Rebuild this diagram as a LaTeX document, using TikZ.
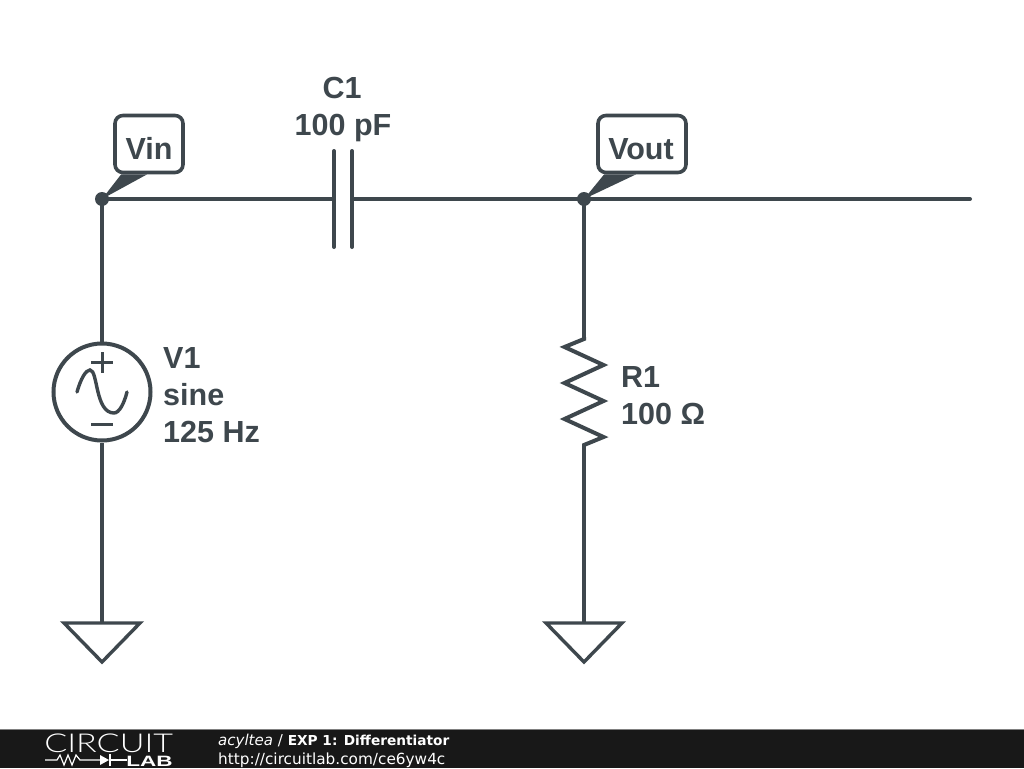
\documentclass[tikz,border=0pt]{standalone}
\usepackage{fontspec}
\setmainfont{Liberation Sans}
\newfontfamily\footfont{DejaVu Sans}
\newfontfamily\logofont{Lato Light}
\usepackage{tikz}
\usetikzlibrary{calc}
\definecolor{wirecol}{HTML}{3E474D}
\definecolor{barcol}{HTML}{181818}

\begin{document}
\begin{tikzpicture}[x=1pt,y=-1pt,line join=miter,wirecol]
  \tikzstyle{wire}=[draw=wirecol,line width=4pt]
  \tikzstyle{thinwire}=[draw=wirecol,line width=3.4pt]
  \tikzstyle{markwire}=[draw=wirecol,line width=3pt]
  \tikzstyle{junction}=[circle,fill=wirecol,inner sep=0pt,minimum size=14pt]
  \tikzstyle{tag}=[draw=wirecol,line width=3.6pt,rounded corners=8pt,inner sep=0pt,minimum height=57pt,
                   font=\fontsize{30.5}{36}\selectfont\bfseries,text=wirecol]
  \tikzstyle{lbl}=[inner sep=0pt,anchor=base west,font=\fontsize{30.5}{30}\selectfont\bfseries,text=wirecol]
  \tikzstyle{lblc}=[lbl,anchor=base]
  \tikzstyle{gnd}=[thinwire,line join=miter]
  \tikzstyle{foot}=[inner sep=0pt,anchor=base west,text=white,font=\footfont\fontsize{15.3}{16}\selectfont]

  \useasboundingbox (0,0) rectangle (1024,768);
  \fill[white] (0,0) rectangle (1024,768);

  % junctions and free ends
  \node[junction] (Vin)  at (102,199) {};
  \node[junction] (Vout) at (584,199) {};
  \coordinate (End)  at (970,199);
  \coordinate (C1a)  at (334,199);
  \coordinate (C1b)  at (352,199);
  \coordinate (G1)   at (102,623);
  \coordinate (G2)   at (584,623);
  \coordinate (R1t)  at (584,337);
  \coordinate (R1b)  at (584,446);
  \node[circle,draw=wirecol,line width=4pt,inner sep=0pt,minimum size=97pt] (V1) at (102,392) {};

  % wires
  \draw[wire] (Vin.center) -- (C1a);
  \draw[wire] (C1b) -- (Vout.center);
  \draw[wire,line cap=round] (Vout.center) -- (End);
  \draw[wire] (Vin.center) -- (V1);
  \draw[wire] (V1) -- (G1);
  \draw[wire] (Vout.center) -- (R1t);
  \draw[wire] (R1b) -- (G2);

  % capacitor
  \draw[wire,line cap=round] (C1a) ++(0,-48) -- ++(0,96);
  \draw[wire,line cap=round] (C1b) ++(0,-48) -- ++(0,96);

  % resistor
  \draw[wire] (R1t) -- (584,339) -- (564.5,347) -- (603.5,365) -- (564.5,383)
        -- (603.5,401) -- (564.5,419) -- (603.5,437) -- (584,445) -- (R1b);

  % grounds
  \draw[gnd] (G1) -- ++(-38,0) -- ++(38,39) -- ++(38,-39) -- cycle;
  \draw[gnd] (G2) -- ++(-38,0) -- ++(38,39) -- ++(38,-39) -- cycle;

  % source symbol
  \draw[markwire] (V1) ++(-11,-30) -- ++(22,0);
  \draw[markwire] (V1) ++(0,-40) -- ++(0,21);
  \draw[markwire] (V1) ++(-11,32) -- ++(22,0);
  \draw[thinwire,line cap=round] (77,392) .. controls (81,378) and (86,370) .. (90,370)
        .. controls (98,370) and (95,413) .. (114,413)
        .. controls (119,413) and (124,404) .. (127,392);

  % probes
  \node[tag,minimum width=68pt] (VinTag)  at (149,144) {};
  \node[tag,minimum width=88pt] (VoutTag) at (642,144) {};
  \node[lblc] (VinText)  at (149,159) {Vin};
  \node[lblc] (VoutText) at (641,159) {Vout};
  \fill[wirecol] (Vin.center) -- ($(VinTag.south west)+(8,0)$) -- ($(VinTag.south west)+(34,0)$) -- cycle;
  \fill[wirecol] (Vout.center) -- ($(VoutTag.south west)+(8,0)$) -- ($(VoutTag.south west)+(40,0)$) -- cycle;

  % labels
  \node[lblc] (C1name) at (342,98)  {C1};
  \node[lblc] (C1val)  at (343,135) {100 pF};
  \node[lbl] (V1name)  at (163,368) {V1};
  \node[lbl] (V1kind)  at (163,405) {sine};
  \node[lbl] (V1val)   at (163,442) {125 Hz};
  \node[lbl] (R1name)  at (621,387) {R1};
  \node[lbl] (R1val)   at (621,424) {100 Ω};

  % footer bar
  \fill[barcol] (0,729) rectangle (1024,768);
  \draw[gray,line width=1pt] (0,729) -- (1024,729);
  \node[inner sep=0pt,anchor=base west,text=white,xscale=1.31,transform shape,font=\logofont\fontsize{26}{26}\selectfont] (logo) at (44,752) {CIRCUIT};
  \node[inner sep=0pt,anchor=base east,text=white,xscale=1.5,transform shape,font=\fontsize{15}{15}\selectfont\bfseries] (lab) at (173,766) {LAB};
  \draw[white,line width=1.2pt] (45,760) -- (57,760) -- (60,755) -- (64,765) -- (68,755) -- (72,765) -- (76,755)
        -- (80,760) -- (100,760);
  \fill[white] (100,755) -- (109,760) -- (100,765) -- cycle;
  \draw[white,line width=1.2pt] (110,754) -- (110,766);
  \draw[white,line width=1.2pt] (110,760) -- (127,760);
  \node[foot] (title) at (218,745) {{\itshape\fontsize{15}{16}\selectfont acyltea} {\fontsize{15}{16}\selectfont /} {\bfseries\fontsize{13.7}{16}\selectfont EXP 1: Differentiator}};
  \node[foot] (url)   at (218,764) {http://circuitlab.com/ce6yw4c};
\end{tikzpicture}
\end{document}
